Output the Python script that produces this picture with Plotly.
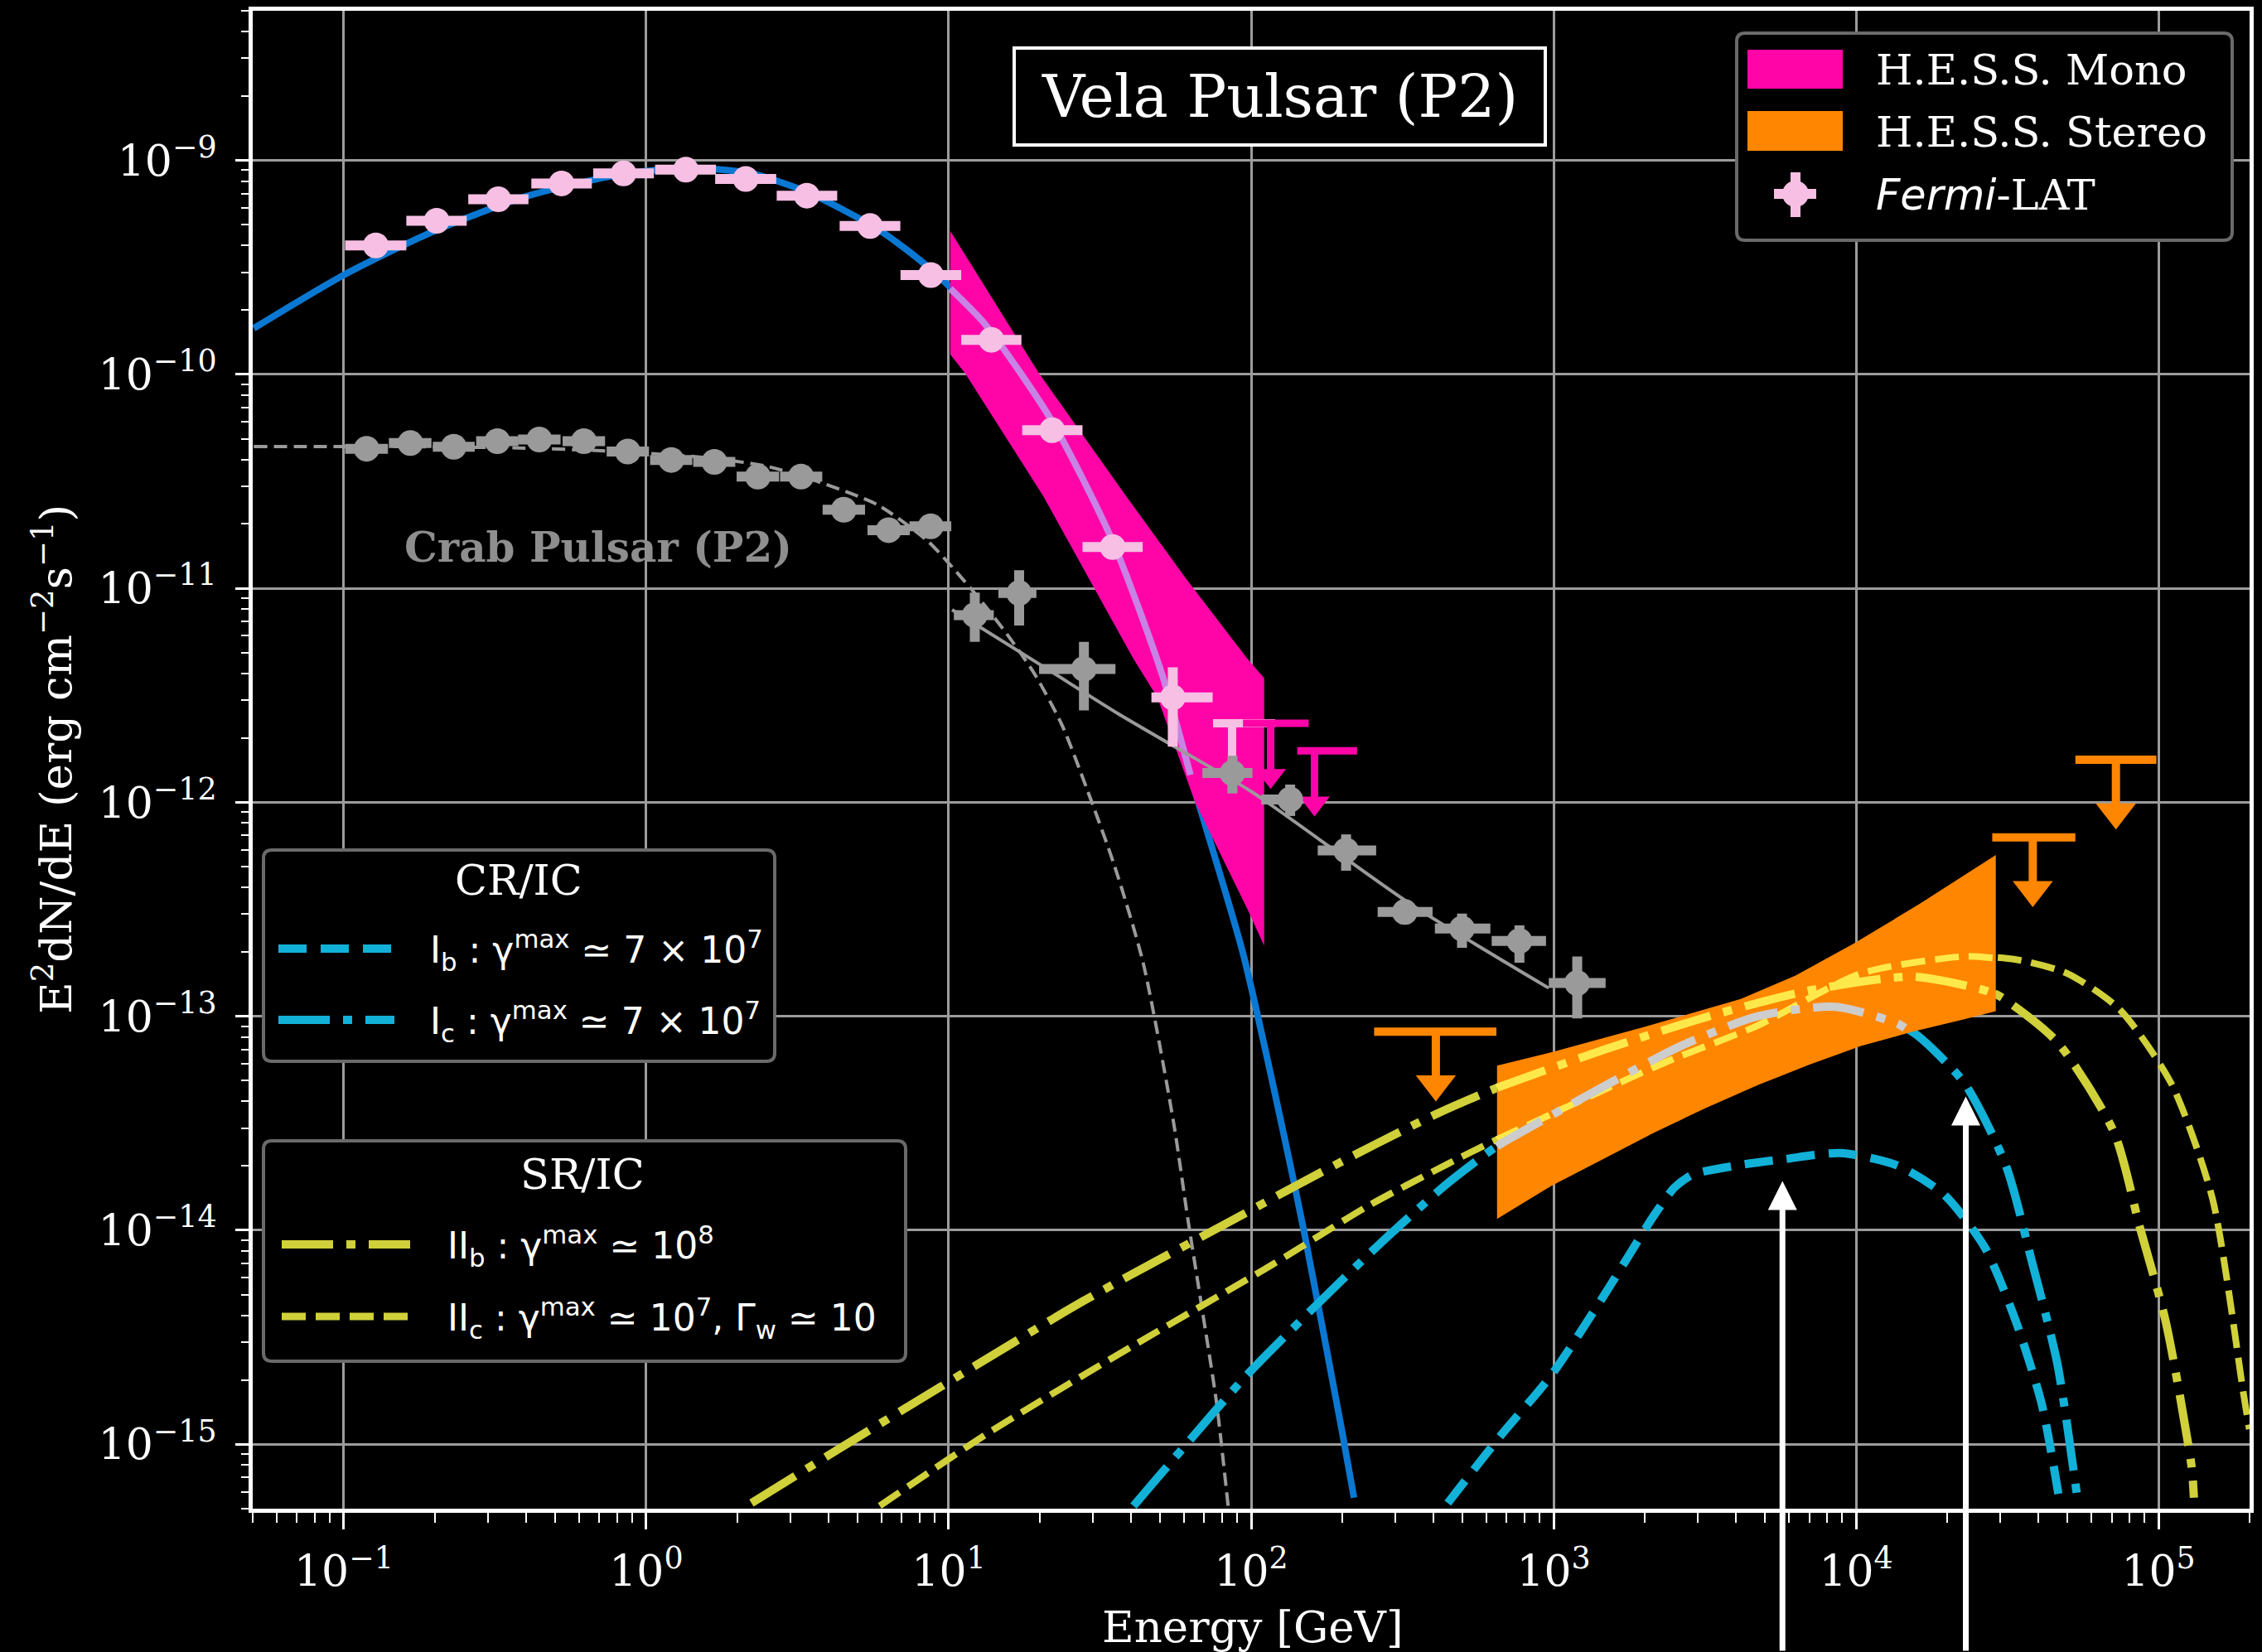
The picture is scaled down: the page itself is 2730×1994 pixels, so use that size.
import numpy as np
import plotly.graph_objects as go

# ------------------------------------------------------------------
# Fermi-LAT spectral points, Vela pulsar (P2)   [GeV, erg cm^-2 s^-1]
vela_e = [0.1276, 0.2028, 0.3243, 0.5248, 0.8414, 1.352, 2.133, 3.396,
          5.495, 8.730, 13.84, 21.98, 34.83, 55.08]
vela_e_lo = [0.101, 0.161, 0.258, 0.417, 0.668, 1.07, 1.69, 2.70,
             4.36, 6.93, 11.0, 17.5, 27.7, 46.8]
vela_e_hi = [0.161, 0.255, 0.408, 0.661, 1.06, 1.70, 2.69, 4.28,
             6.92, 11.0, 17.4, 27.7, 43.8, 74.6]
vela_f = [4.00e-10, 5.22e-10, 6.58e-10, 7.80e-10, 8.69e-10, 9.04e-10, 8.18e-10, 6.84e-10,
          4.93e-10, 2.91e-10, 1.45e-10, 5.48e-11, 1.56e-11, 3.09e-12]
vela_f_lo = [4.00e-10, 5.22e-10, 6.58e-10, 7.80e-10, 8.69e-10, 9.04e-10, 8.18e-10, 6.84e-10,
             4.93e-10, 2.91e-10, 1.45e-10, 5.48e-11, 1.56e-11, 1.82e-12]
vela_f_hi = [4.00e-10, 5.22e-10, 6.58e-10, 7.80e-10, 8.69e-10, 9.04e-10, 8.18e-10, 6.84e-10,
             4.93e-10, 2.91e-10, 1.45e-10, 5.48e-11, 1.56e-11, 4.27e-12]

# Fermi-LAT upper limit, Vela
vela_ul_e = [86.5]
vela_ul_lo = [74.8]
vela_ul_hi = [120.0]
vela_ul_f = [2.34e-12]

# Vela model spectrum (Fermi fit)
vela_model_e = [0.0504, 0.1, 0.1995, 0.3981, 0.7943, 1.361, 2.203, 3.428, 5.957, 8.913,
                13.27, 21.98, 34.83, 50.7, 65.31, 93.76, 125.9, 149.3, 200.4, 218.8]
vela_model_f = [1.641e-10, 2.911e-10, 4.677e-10, 6.761e-10, 8.511e-10, 9.226e-10, 8.710e-10,
                7.079e-10, 4.677e-10, 3.020e-10, 1.698e-10, 6.026e-11, 1.660e-11, 3.981e-12,
                1.122e-12, 1.995e-13, 3.162e-14, 1.0e-14, 1.122e-15, 5.623e-16]

# H.E.S.S. Mono butterfly
mono_up_e = [10.12, 19.86, 38.64, 61.09, 97.27, 110.4]
mono_up_f = [4.677e-10, 1.014e-10, 2.692e-11, 1.104e-11, 4.677e-12, 3.802e-12]
mono_lo_e = [10.12, 11.32, 20.56, 29.11, 40.83, 48.98, 65.31, 97.27, 110.4]
mono_lo_f = [1.239e-10, 1.014e-10, 2.692e-11, 1.104e-11, 4.677e-12, 3.090e-12,
             1.0e-12, 3.162e-13, 2.138e-13]
mono_ul_e = [116.0, 162.0]
mono_ul_lo = [94.0, 142.0]
mono_ul_hi = [155.0, 224.0]
mono_ul_f = [2.34e-12, 1.74e-12]

# H.E.S.S. Stereo butterfly
stereo_up_e = [650.1, 997.7, 1995, 4159, 6310, 9840, 16218, 28973]
stereo_up_f = [5.875e-14, 6.823e-14, 8.913e-14, 1.205e-13, 1.549e-13, 2.188e-13,
               3.350e-13, 5.675e-13]
stereo_lo_e = [650.1, 981.7, 1455, 2153, 3192, 4732, 7015, 10375, 15382, 22803, 28973]
stereo_lo_f = [1.130e-14, 1.611e-14, 2.148e-14, 2.864e-14, 3.733e-14, 4.764e-14,
               5.943e-14, 7.261e-14, 8.472e-14, 9.683e-14, 1.057e-13]
stereo_ul_e = [408.0, 38400.0, 72300.0]
stereo_ul_lo = [255.0, 28200.0, 53100.0]
stereo_ul_hi = [647.0, 53100.0, 98400.0]
stereo_ul_f = [8.47e-14, 6.85e-13, 1.58e-12]

# Crab pulsar (P2) points and models
crab_e = [0.119, 0.166, 0.231, 0.322, 0.443, 0.622, 0.869, 1.21, 1.68, 2.34, 3.25,
          4.50, 6.33, 8.72, 12.2, 17.1, 28.0, 86.7, 134.6, 206.0, 322.0, 498.0, 771.0, 1197.0]
crab_e_lo = [0.101, 0.141, 0.197, 0.274, 0.377, 0.529, 0.740, 1.03, 1.43, 1.99, 2.77,
             3.83, 5.39, 7.42, 10.4, 14.6, 19.9, 69.0, 108.0, 166.0, 262.0, 405.0, 624.0, 964.0]
crab_e_hi = [0.140, 0.195, 0.271, 0.378, 0.521, 0.731, 1.021, 1.42, 1.97, 2.75, 3.82,
             5.29, 7.44, 10.2, 14.1, 19.5, 35.6, 101.0, 147.0, 259.0, 398.0, 618.0, 944.0, 1486.0]
crab_f = [4.49e-11, 4.77e-11, 4.59e-11, 4.87e-11, 4.96e-11, 4.87e-11, 4.36e-11, 3.98e-11,
          3.90e-11, 3.33e-11, 3.33e-11, 2.33e-11, 1.87e-11, 1.95e-11, 7.5e-12, 9.5e-12,
          4.2e-12, 1.37e-12, 1.03e-12, 5.96e-13, 3.07e-13, 2.57e-13, 2.25e-13, 1.43e-13]
crab_f_lo = [4.49e-11, 4.77e-11, 4.59e-11, 4.87e-11, 4.96e-11, 4.87e-11, 4.36e-11, 3.98e-11,
             3.90e-11, 3.33e-11, 3.33e-11, 2.33e-11, 1.87e-11, 1.95e-11, 5.62e-12, 6.70e-12,
             2.69e-12, 1.10e-12, 8.63e-13, 4.79e-13, 2.70e-13, 2.09e-13, 1.78e-13, 9.77e-14]
crab_f_hi = [4.49e-11, 4.77e-11, 4.59e-11, 4.87e-11, 4.96e-11, 4.87e-11, 4.36e-11, 3.98e-11,
             3.90e-11, 3.33e-11, 3.33e-11, 2.33e-11, 1.87e-11, 1.95e-11, 9.55e-12, 1.216e-11,
             5.62e-12, 1.65e-12, 1.21e-12, 7.08e-13, 3.50e-13, 3.02e-13, 2.66e-13, 1.905e-13]

crab_cut_e = [0.0504, 0.1585, 0.3981, 0.7943, 1.585, 2.512, 3.673, 5.821, 8.492, 10.26,
              12.65, 15.60, 19.23, 23.71, 28.51, 35.40, 43.95, 55.46, 61.80, 68.87, 76.74, 83.95]
crab_cut_f = [4.592e-11, 4.592e-11, 4.519e-11, 4.365e-11, 4.074e-11, 3.715e-11, 3.162e-11,
              2.455e-11, 1.671e-11, 1.259e-11, 8.913e-12, 6.095e-12, 3.981e-12, 2.291e-12,
              1.175e-12, 5.012e-13, 1.778e-13, 3.162e-14, 1.122e-14, 4.266e-15, 1.585e-15,
              5.129e-16]
crab_pl_e = [10.26, 20.46, 36.06, 56.62, 100.7, 331.9, 963.8]
crab_pl_f = [7.943e-12, 4.325e-12, 2.612e-12, 1.799e-12, 1.117e-12, 3.388e-13, 1.355e-13]

# CR/IC models
ib_e = [446.7, 662.2, 981.7, 1455, 2153, 2512, 2884, 4046, 5768, 8872, 13677, 19498,
        26669, 33806, 41115, 47206]
ib_f = [5.309e-16, 1.079e-15, 2.099e-15, 4.864e-15, 1.180e-14, 1.585e-14, 1.820e-14,
        2.009e-14, 2.148e-14, 2.296e-14, 2.009e-14, 1.472e-14, 8.299e-15, 3.733e-15,
        1.538e-15, 5.309e-16]
ic_e = [40.83, 59.70, 95.28, 158.1, 262.4, 446.7, 662.2, 1455, 2624, 4732, 8531, 13677,
        15996, 22803, 31261, 38019, 46238, 54200]
ic_f = [5.152e-16, 9.638e-16, 2.056e-15, 4.236e-15, 8.472e-15, 1.660e-14, 2.512e-14,
        4.677e-14, 7.244e-14, 1.0e-13, 1.107e-13, 9.268e-14, 8.110e-14, 4.875e-14,
        2.014e-14, 7.261e-15, 2.399e-15, 5.309e-16]

# SR/IC models
iib_e = [2.228, 4.592, 9.441, 27.93, 82.41, 169.8, 404.6, 662.2, 1455, 3192, 7015, 15382,
         26669, 29992, 46238, 71285, 86696, 105682, 128529, 130918]
iib_f = [5.309e-16, 1.0e-15, 1.862e-15, 4.677e-15, 1.072e-14, 1.862e-14, 3.467e-14,
         4.677e-14, 6.950e-14, 9.908e-14, 1.321e-13, 1.531e-13, 1.321e-13, 1.236e-13,
         7.586e-14, 2.864e-14, 1.035e-14, 3.733e-15, 7.925e-16, 5.623e-16]
iic_e = [5.916, 13.55, 40.09, 118.3, 243.8, 446.7, 662.2, 2333, 4732, 10375, 22803, 33806,
         50003, 74131, 109901, 150661, 190546, 199526]
iic_f = [5.152e-16, 1.132e-15, 2.851e-15, 6.950e-15, 1.300e-14, 2.042e-14, 2.692e-14,
         6.081e-14, 9.057e-14, 1.585e-13, 1.905e-13, 1.841e-13, 1.585e-13, 1.081e-13,
         4.887e-14, 1.413e-14, 1.758e-15, 1.175e-15]

# cut-off markers
arrow_e = [5710.0, 23060.0]
arrow_f = [1.698e-14, 4.217e-14]

x_tickvals = [1e-1, 1e0, 1e1, 1e2, 1e3, 1e4, 1e5]
x_ticktext = ["10<sup>−1</sup>", "10<sup>0</sup>", "10<sup>1</sup>", "10<sup>2</sup>",
              "10<sup>3</sup>", "10<sup>4</sup>", "10<sup>5</sup>"]
y_tickvals = [1e-15, 1e-14, 1e-13, 1e-12, 1e-11, 1e-10, 1e-9]
y_ticktext = ["10<sup>−15</sup>", "10<sup>−14</sup>", "10<sup>−13</sup>", "10<sup>−12</sup>",
              "10<sup>−11</sup>", "10<sup>−10</sup>", "10<sup>−9</sup>"]

# ------------------------------------------------------------------
PINK = "#f6bfe3"
MAGENTA = "#ff05a8"
ORANGE = "#ff8600"
BLUE = "#0a78d2"
LAVENDER = "#c883e4"
GREY = "#9a9a9a"
CYAN = "#12b1d8"
YELLOW = "#d0d03a"
BRIGHT_YELLOW = "#ffe94a"
PALE = "#cdcdcd"
SERIF = "DejaVu Serif"
SANS = "DejaVu Sans"

DASH_I_B = "34px,17px"
DASH_DOT = "62px,16px,11px,16px"
DASH_II_C = "29px,12px"
DASH_CRAB = "16px,8px"

W, H = 2730, 1994
PL, PR, PT, PB = 305, 2715, 13, 1821


def px(x):
    return (x - PL) / (PR - PL)


def py(y):
    return (PB - y) / (PB - PT)


def clip_log(e, f, e_min, e_max):
    """Part of a curve between e_min and e_max (interpolated in log-log)."""
    le, lf = np.log10(e), np.log10(f)
    lo, hi = np.log10(e_min), np.log10(e_max)
    inner = le[(le > lo) & (le < hi)]
    xs = np.concatenate([[lo], inner, [hi]])
    return 10 ** xs, 10 ** np.interp(xs, le, lf)


fig = go.Figure()


def curve(e, f, color, width, dash="solid"):
    fig.add_trace(go.Scatter(x=e, y=f, mode="lines", showlegend=False, hoverinfo="skip",
                             line=dict(color=color, width=width, dash=dash,
                                       shape="spline", smoothing=0.7)))


def band(up_e, up_f, lo_e, lo_f, color):
    fig.add_trace(go.Scatter(x=list(up_e) + list(lo_e)[::-1], y=list(up_f) + list(lo_f)[::-1],
                             mode="lines", fill="toself", fillcolor=color,
                             line=dict(width=0, color=color), showlegend=False,
                             hoverinfo="skip"))


ARROW_DEC = 0.245


def upper_limits(e, lo, hi, ul, color, width, size):
    bx, by, sx, sy, tip = [], [], [], [], []
    for ei, l, h, u in zip(e, lo, hi, ul):
        t = u * 10 ** (-ARROW_DEC)
        bx += [l, h, None]
        by += [u, u, None]
        sx += [ei, ei, None]
        sy += [u, t, None]
        tip.append(t)
    for xx, yy in ((bx, by), (sx, sy)):
        fig.add_trace(go.Scatter(x=xx, y=yy, mode="lines", showlegend=False, hoverinfo="skip",
                                 line=dict(color=color, width=width)))
    fig.add_trace(go.Scatter(x=e, y=tip, mode="markers", showlegend=False, hoverinfo="skip",
                             marker=dict(symbol="triangle-down", size=size, color=color,
                                         line=dict(width=0))))


def points(e, e_lo, e_hi, f, f_lo, f_hi, color):
    e, e_lo, e_hi = np.array(e), np.array(e_lo), np.array(e_hi)
    f, f_lo, f_hi = np.array(f), np.array(f_lo), np.array(f_hi)
    fig.add_trace(go.Scatter(
        x=e, y=f, mode="markers", showlegend=False, hoverinfo="skip",
        marker=dict(symbol="circle", size=31, color=color, line=dict(width=0)),
        error_x=dict(type="data", symmetric=False, array=e_hi - e, arrayminus=e - e_lo,
                     thickness=12, width=0, color=color),
        error_y=dict(type="data", symmetric=False, array=f_hi - f, arrayminus=f - f_lo,
                     thickness=12, width=0, color=color)))


# Crab reference curves
curve(crab_cut_e, crab_cut_f, GREY, 4, DASH_CRAB)

# Vela model and CR/IC, SR/IC curves
curve(vela_model_e, vela_model_f, BLUE, 8)
curve(ib_e, ib_f, CYAN, 10, DASH_I_B)
curve(ic_e, ic_f, CYAN, 10, DASH_DOT)
curve(iib_e, iib_f, YELLOW, 10, DASH_DOT)
curve(iic_e, iic_f, YELLOW, 8, DASH_II_C)

# H.E.S.S. Mono butterfly with the model seen through it
band(mono_up_e, mono_up_f, mono_lo_e, mono_lo_f, MAGENTA)
ve, vf = clip_log(vela_model_e, vela_model_f, mono_up_e[0], 63.0)
curve(ve, vf, LAVENDER, 8)

curve(crab_pl_e, crab_pl_f, GREY, 4)

# H.E.S.S. Stereo butterfly with the models seen through it
band(stereo_up_e, stereo_up_f, stereo_lo_e, stereo_lo_f, ORANGE)
s0, s1 = stereo_up_e[0], stereo_up_e[-1]
e2, f2 = clip_log(iib_e, iib_f, s0, s1)
curve(e2, f2, BRIGHT_YELLOW, 10, DASH_DOT)
e2, f2 = clip_log(iic_e, iic_f, s0, s1)
curve(e2, f2, BRIGHT_YELLOW, 8, DASH_II_C)
e2, f2 = clip_log(ic_e, ic_f, s0, 14500.0)
curve(e2, f2, PALE, 10, DASH_DOT)

# upper limits
upper_limits(vela_ul_e, vela_ul_lo, vela_ul_hi, vela_ul_f, PINK, 10, 32)
upper_limits(mono_ul_e, mono_ul_lo, mono_ul_hi, mono_ul_f, MAGENTA, 9, 32)
upper_limits(stereo_ul_e, stereo_ul_lo, stereo_ul_hi, stereo_ul_f, ORANGE, 10, 42)

# spectral points
points(crab_e, crab_e_lo, crab_e_hi, crab_f, crab_f_lo, crab_f_hi, GREY)
points(vela_e, vela_e_lo, vela_e_hi, vela_f, vela_f_lo, vela_f_hi, PINK)

# ------------------------------------------------------------------
axis_common = dict(
    type="log", showgrid=True, gridcolor="#9c9c9c", gridwidth=3, zeroline=False,
    showline=True, linecolor="white", linewidth=5, mirror=True,
    ticks="outside", tickcolor="white", tickwidth=3,
    tickfont=dict(family=SERIF, size=52, color="white"),
)
minor_x = [m * 10.0 ** d for d in range(-2, 6) for m in range(2, 10)]
minor_y = [m * 10.0 ** d for d in range(-16, -8) for m in range(2, 10)]

fig.update_xaxes(**axis_common, range=[np.log10(0.05), np.log10(2e5)], ticklen=20,
                 tickvals=x_tickvals, ticktext=x_ticktext, ticklabelstandoff=6,
                 minor=dict(tickvals=minor_x, ticks="outside", ticklen=12, tickwidth=2,
                            tickcolor="white", showgrid=False))
fig.update_yaxes(**axis_common, range=[np.log10(5e-16), np.log10(5e-9)], ticklen=16,
                 tickvals=y_tickvals, ticktext=y_ticktext, ticklabelstandoff=12,
                 minor=dict(tickvals=minor_y, ticks="outside", ticklen=9, tickwidth=2,
                            tickcolor="white", showgrid=False))

fig.update_layout(
    width=W, height=H, paper_bgcolor="black", plot_bgcolor="black",
    margin=dict(l=PL, r=W - PR, t=PT, b=H - PB, autoexpand=False),
    showlegend=False, font=dict(family=SERIF, color="white"),
)

shapes = []
annotations = []


def rounded_box(x0, y0, x1, y1, color, width, r=10):
    rx, ry = r / (PR - PL), r / (PB - PT)
    a0, a1, b0, b1 = px(x0), px(x1), py(y1), py(y0)
    path = (f"M{a0 + rx},{b0} L{a1 - rx},{b0} Q{a1},{b0} {a1},{b0 + ry} "
            f"L{a1},{b1 - ry} Q{a1},{b1} {a1 - rx},{b1} L{a0 + rx},{b1} "
            f"Q{a0},{b1} {a0},{b1 - ry} L{a0},{b0 + ry} Q{a0},{b0} {a0 + rx},{b0} Z")
    shapes.append(dict(type="path", path=path, xref="paper", yref="paper",
                       line=dict(color=color, width=width), fillcolor="black", layer="above"))


def rect(x0, y0, x1, y1, color):
    shapes.append(dict(type="rect", xref="paper", yref="paper", x0=px(x0), x1=px(x1),
                       y0=py(y1), y1=py(y0), line=dict(width=0), fillcolor=color,
                       layer="above"))


def sample(x0, x1, y, color, width, dash):
    shapes.append(dict(type="line", xref="paper", yref="paper", x0=px(x0), x1=px(x1),
                       y0=py(y), y1=py(y), line=dict(color=color, width=width, dash=dash),
                       layer="above"))


def text(x, y, s, size, family=SERIF, xanchor="left", color="white", angle=0):
    annotations.append(dict(x=px(x), y=py(y), xref="paper", yref="paper", text=s,
                            showarrow=False, xanchor=xanchor, yanchor="middle",
                            textangle=angle, font=dict(family=family, size=size, color=color)))


# title box
shapes.append(dict(type="rect", xref="paper", yref="paper", x0=px(1224), x1=px(1865),
                   y0=py(175), y1=py(58), line=dict(color="white", width=4),
                   fillcolor="black", layer="above"))
text(1545, 117, "Vela Pulsar (P2)", 71, xanchor="center")

# instrument legend
rounded_box(2096, 40, 2694, 290, "#6a6a6a", 4)
rect(2109, 60, 2224, 107, MAGENTA)
rect(2109, 134, 2224, 182, ORANGE)
rect(2141, 228, 2192, 240, PINK)
rect(2161, 208, 2173, 262, PINK)
shapes.append(dict(type="circle", xref="paper", yref="paper", x0=px(2151), x1=px(2183),
                   y0=py(250), y1=py(218), line=dict(width=0), fillcolor=PINK, layer="above"))
text(2262, 84, "H.E.S.S. Mono", 51)
text(2262, 159, "H.E.S.S. Stereo", 51)
text(2262, 235, "<span style='font-family:DejaVu Sans'><i>Fermi</i></span>-LAT", 51)

# CR/IC legend
rounded_box(318, 1026, 935, 1281, "#6a6a6a", 4)
text(626, 1063, "CR/IC", 51, xanchor="center")
sample(336, 476, 1145, CYAN, 10, DASH_I_B)
sample(336, 476, 1231, CYAN, 10, DASH_DOT)
text(517, 1147, "I<sub>b</sub> : γ<sup>max</sup> ≃ 7 × 10<sup>7</sup>", 44, family=SANS)
text(517, 1233, "I<sub>c</sub> : γ<sup>max</sup> ≃ 7 × 10<sup>7</sup>", 44, family=SANS)

# SR/IC legend
rounded_box(318, 1377, 1093, 1643, "#6a6a6a", 4)
text(703, 1417, "SR/IC", 51, xanchor="center")
sample(340, 495, 1502, YELLOW, 10, DASH_DOT)
sample(340, 495, 1589, YELLOW, 9, DASH_II_C)
text(538, 1504, "II<sub>b</sub> : γ<sup>max</sup> ≃ 10<sup>8</sup>", 44, family=SANS)
text(538, 1591, "II<sub>c</sub> : γ<sup>max</sup> ≃ 10<sup>7</sup>, Γ<sub>w</sub> ≃ 10", 44,
     family=SANS)

# Crab label
annotations.append(dict(x=np.log10(0.695), y=np.log10(1.55e-11), xref="x", yref="y",
                        text="<b>Crab Pulsar (P2)</b>", showarrow=False, xanchor="center",
                        yanchor="middle", font=dict(family=SERIF, size=50, color="#8e8e8e")))

# axis titles
text(1512, 1963, "Energy [GeV]", 53, xanchor="center")
text(64, 917, "E<sup>2</sup>dN/dE (erg cm<sup>−2</sup>s<sup>−1</sup>)", 53,
     xanchor="center", angle=-90)

# cut-off arrows, running up from the bottom of the figure
for ae, af in zip(arrow_e, arrow_f):
    frac = (np.log10(5e-9) - np.log10(af)) / (np.log10(5e-9) - np.log10(5e-16))
    tip_y = PT + frac * (PB - PT)
    annotations.append(dict(x=np.log10(ae), y=np.log10(af), xref="x", yref="y", text="",
                            showarrow=True, ax=0, ay=H - tip_y + 10, axref="pixel",
                            ayref="pixel", arrowhead=2, arrowsize=1, arrowwidth=7,
                            arrowcolor="white", standoff=0))

fig.update_layout(shapes=shapes, annotations=annotations)
fig.write_html("out.html", config={"displayModeBar": False})
